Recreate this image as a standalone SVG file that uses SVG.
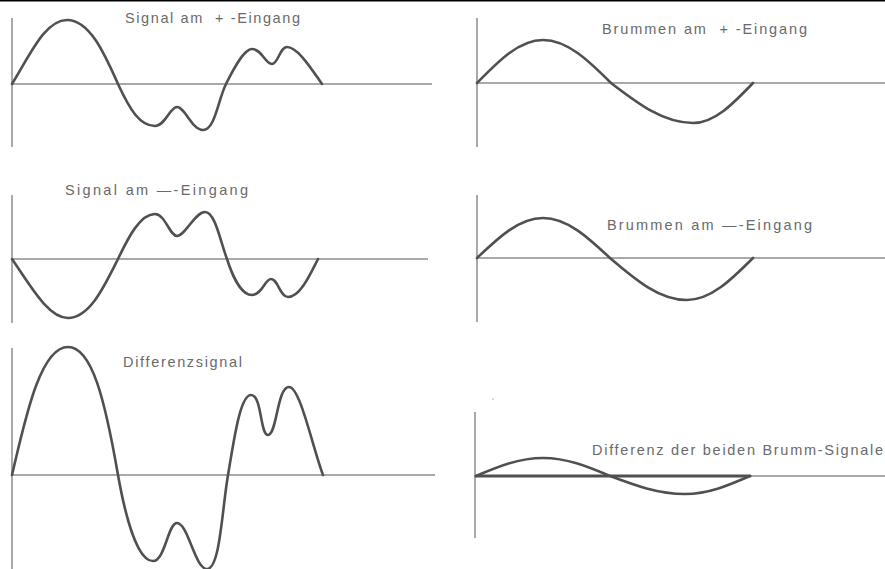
<svg xmlns="http://www.w3.org/2000/svg" width="885" height="569" viewBox="0 0 885 569">
<style>
.axis{stroke:#8c8c8c;stroke-width:1.5;fill:none}
.curve{stroke:#505050;stroke-width:2.6;fill:none;stroke-linejoin:round;stroke-linecap:round}
.lbl{font-family:"Liberation Sans","Arial",sans-serif;font-size:14.5px;fill:#6a6a6a}
</style>
<rect x="0" y="0" width="885" height="569" fill="#fff"/>
<rect x="0" y="0" width="885" height="1.5" fill="#000"/>
<g id="signal-plus">
<line class="axis" x1="12" y1="18" x2="12" y2="147"/>
<line class="axis" x1="12" y1="84" x2="432" y2="84"/>
<path class="curve" d="M12,84 C30,55 45,20 67,20 C90,20 105,55 118,84 C130,110 140,126 155,126 C165,126 170,107 177,107 C185,107 192,130 203,130 C215,130 218,100 226,84 C234,68 244,49 252,49 C262,49 265,64 272,64 C278,64 280,47 287,47 C298,47 312,70 322,84"/>
<text class="lbl" x="125" y="23" textLength="175" lengthAdjust="spacing" xml:space="preserve">Signal am  + -Eingang</text>
</g>
<g id="brumm-plus">
<line class="axis" x1="477" y1="18" x2="477" y2="147"/>
<line class="axis" x1="477" y1="83" x2="885" y2="83"/>
<path class="curve" d="M477,83 C498.5,61 519,40 543,40 C567.6,40 589,61 611,83 C637.7,103.5 663.3,123 693,123 C714.7,123 733.4,103.5 753,83"/>
<text class="lbl" x="602" y="33.5" textLength="205" lengthAdjust="spacing" xml:space="preserve">Brummen am  + -Eingang</text>
</g>
<g id="signal-minus">
<line class="axis" x1="12" y1="195" x2="12" y2="323"/>
<line class="axis" x1="12" y1="259" x2="428" y2="259"/>
<path class="curve" d="M12,259 C30,285 48,318 68,318 C90,318 105,285 118,259 C128,238 140,214 155,214 C165,214 170,236 177,236 C185,236 195,212 205,212 C215,212 220,240 227,259 C233,278 242,295 252,295 C262,295 265,279 271,279 C278,279 280,297 288,297 C300,297 310,275 318,259"/>
<text class="lbl" x="65" y="194.5" textLength="183" lengthAdjust="spacing">Signal am —-Eingang</text>
</g>
<g id="brumm-minus">
<line class="axis" x1="477" y1="195" x2="477" y2="322"/>
<line class="axis" x1="477" y1="258" x2="885" y2="258"/>
<path class="curve" d="M477,258 C498.5,237.5 519,218 543,218 C567.3,218 588.2,237.5 610,258 C635.1,279.5 659.1,300 687,300 C710.9,300 731.5,279.5 753,258"/>
<text class="lbl" x="607" y="229.5" textLength="205" lengthAdjust="spacing">Brummen am —-Eingang</text>
</g>
<g id="differenzsignal">
<line class="axis" x1="12" y1="348" x2="12" y2="569"/>
<line class="axis" x1="12" y1="475" x2="435" y2="475"/>
<path class="curve" d="M12,475 C25,420 40,347 68,347 C92,347 105,400 118,475 C126,520 138,561 153,561 C165,561 168,523 177,523 C188,523 195,569 207,569 C220,569 222,510 228,475 C234,440 240,395 251,395 C262,395 260,435 268,435 C277,435 277,387 289,387 C300,387 312,445 323,475"/>
<text class="lbl" x="123" y="366.5" textLength="119" lengthAdjust="spacing">Differenzsignal</text>
</g>
<g id="brumm-differenz">
<line class="axis" x1="475" y1="412" x2="475" y2="538"/>
<line class="axis" x1="475" y1="476" x2="885" y2="476"/>
<line class="curve" x1="476" y1="476" x2="750" y2="476" style="stroke-width:3"/>
<path class="curve" d="M476,476 C497.8,466.8 518.7,458 543,458 C567.3,458 588.2,466.8 610,476 C634.5,485.2 657.9,494 685,494 C708.5,494 728.8,485.2 750,476"/>
<circle cx="493" cy="399" r="0.7" fill="#999"/>
<text class="lbl" x="592" y="454.5" textLength="291" lengthAdjust="spacing">Differenz der beiden Brumm-Signale</text>
</g>
</svg>
